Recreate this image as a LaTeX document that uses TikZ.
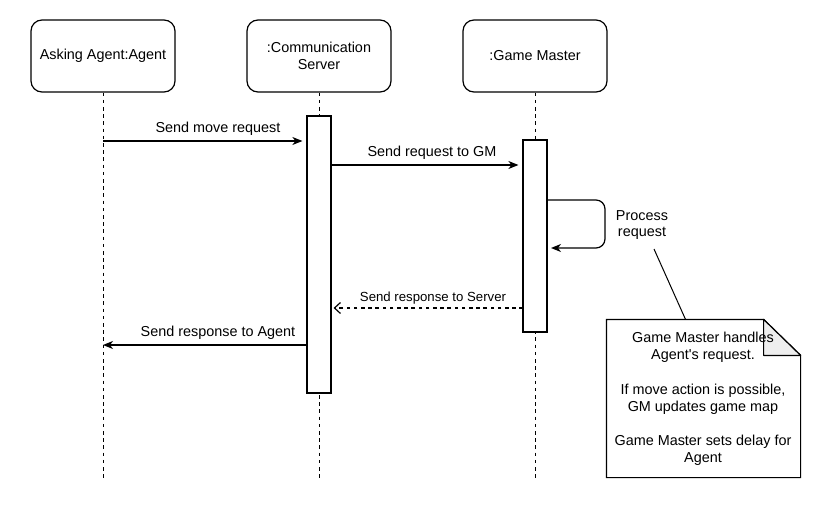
\documentclass[tikz,border=0pt]{standalone}
\usepackage{fontspec}
\setmainfont{Liberation Sans}[Ligatures=TeXOff]
\usetikzlibrary{arrows.meta}
\definecolor{foldgray}{HTML}{EEEEEE}
\begin{document}
\begin{tikzpicture}[x=1pt,y=-1pt,line width=1.2pt,
  actor/.style={draw,rounded corners=11pt,minimum width=144pt,minimum height=72pt,align=center,
    font=\fontsize{14.4}{16.5}\selectfont,inner sep=0pt},
  actbar/.style={draw,fill=white,minimum width=24pt,inner sep=0pt},
  life/.style={dash pattern=on 3.6pt off 3.6pt,line width=1pt},
  msg/.style={-{Stealth[length=10pt,width=8pt,inset=3pt]},shorten >=4pt},
  reply/.style={dash pattern=on 3.6pt off 3.6pt,-{Straight Barb[length=6pt,width=11pt,line width=1.2pt]},shorten >=2pt},
  lbl/.style={font=\fontsize{14.4}{17}\selectfont,inner sep=0pt},
  slbl/.style={font=\fontsize{13.2}{16}\selectfont,inner sep=0pt},
  notetext/.style={font=\fontsize{14.4}{17.2}\selectfont,align=center,inner sep=0pt}
]
\useasboundingbox (0,0) rectangle (838,516);

% actors
\node[actor] (a1) at (103,56) {Asking Agent:Agent};
\node[actor] (a2) at (319,56) {\rule{0pt}{4pt}:Communication\\Server};
\node[actor] (a3) at (535,56) {:Game Master};

% lifeline ends
\coordinate (e1) at (103,478);
\coordinate (e2) at (319,478);
\coordinate (e3) at (535,478);
\draw[life] (a1.south) -- (e1);
\draw[life] (a2.south) -- (e2);
\draw[life] (a3.south) -- (e3);

% activation bars
\node[actbar,minimum height=277pt] (b2) at (319,254.5) {};
\node[actbar,minimum height=192pt] (b3) at (535,236) {};

% messages
\coordinate (m1s) at (103,141);
\draw[msg] (m1s) -- (m1s -| b2.west);
\node[lbl] (l1) at (218,129) {Send move request};

\coordinate (m2s) at (331,165);
\draw[msg] (m2s) -- (m2s -| b3.west);
\node[lbl] (l2) at (432,153) {Send request to GM};

\coordinate (p1) at (547,200);
\coordinate (p2) at (605,200);
\coordinate (p3) at (605,248);
\coordinate (p4) at (547,248);
\draw[msg,rounded corners=9pt] (p1) -- (p2) -- (p3) -- (p4);
\node[lbl,align=center,font=\fontsize{14.4}{16.5}\selectfont] (l3) at (642,225) {Process\\request};

\coordinate (m4s) at (523,308);
\draw[reply] (m4s) -- (m4s -| b2.east);
\node[slbl] (l4) at (433,298) {Send response to Server};

\coordinate (m5s) at (307,345);
\draw[msg,shorten >=0pt] (m5s) -- (m5s -| a1.south);
\node[lbl] (l5) at (218,333) {Send response to Agent};

% note
\node[minimum width=193pt,minimum height=157pt,inner sep=0pt] (note) at (703.5,398.5) {};
\draw[fill=white] (note.north west) -- ([xshift=-37pt]note.north east) -- ([yshift=-36pt]note.north east)
  -- (note.south east) -- (note.south west) -- cycle;
\draw[fill=foldgray,line join=round] ([xshift=-37pt]note.north east) -- ([xshift=-37pt,yshift=-36pt]note.north east)
  -- ([yshift=-36pt]note.north east) -- cycle;
\node[notetext] (nt) at (703,399) {Game Master handles\\Agent's request.\\[17.2pt]If move action is possible,\\GM updates game map\\[17.2pt]Game Master sets delay for\\Agent};

\coordinate (c1) at (654,249);
\draw[line width=1pt] (c1) -- ([xshift=-18pt]note.north);
\end{tikzpicture}
\end{document}
